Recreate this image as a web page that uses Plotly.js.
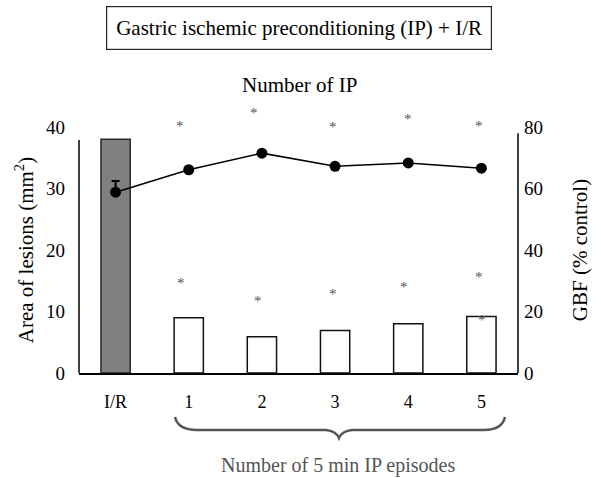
<!DOCTYPE html>
<html>
<head>
<meta charset="utf-8">
<script src="https://cdn.plot.ly/plotly-3.0.1.min.js"></script>
<style>html,body{margin:0;padding:0;background:#fff;}#chart{width:601px;height:478px;}</style>
</head>
<body>
<div id="chart"></div>
<script>
// ---- data ----
const categories = ['I/R', '1', '2', '3', '4', '5'];
const lesionArea = [38.0, 9.0, 5.9, 6.9, 8.0, 9.2];          // mm2, left axis (bars)
const gbf = [58.8, 66.1, 71.5, 67.2, 68.3, 66.6];             // % control, right axis (line)
const gbfErrPlus = [3.6, 0, 0, 0, 0, 0];
const gbfStarCats = ['1', '2', '3', '4', '5'];
const gbfStarLevel = [81.0, 85.2, 80.7, 83.3, 81.0];          // right axis
const lesionStarCats = ['1', '2', '3', '4', '5', '5'];
const lesionStarLevel = [15.0, 12.0, 13.1, 14.3, 16.0, 8.9];  // left axis
const leftRange = [0, 40], rightRange = [0, 80];

// ---- geometry / style ----
const W = 601, H = 478, ML = 79, MR = 83, MT = 127, MB = 105;
const PW = W - ML - MR, PH = H - MT - MB;
const px = x => ((x - ML) / PW).toFixed(4);
const py = y => ((H - MB - y) / PH).toFixed(4);
const serif = 'Liberation Serif';
const topStarDx = [-9, -8, -2, 0, -2];
const lowStarDx = [-8, -4, -2, -4, -2, 1];

const bars = {
  type: 'bar', x: categories, y: lesionArea, yaxis: 'y', width: 0.4,
  marker: {color: ['#808080', '#fff', '#fff', '#fff', '#fff', '#fff'],
           line: {color: ['#2a2a2a', '#111', '#111', '#111', '#111', '#111'], width: 1.5}},
  hoverinfo: 'skip', showlegend: false
};
const line = {
  type: 'scatter', mode: 'lines+markers', x: categories, y: gbf, yaxis: 'y2',
  line: {color: '#000', width: 1.5}, marker: {color: '#000', size: 11},
  error_y: {type: 'data', symmetric: false, array: gbfErrPlus, arrayminus: [0,0,0,0,0,0],
            color: '#000', thickness: 2, width: 4},
  showlegend: false, hoverinfo: 'skip', cliponaxis: false
};

// significance stars: x on the category axis, y converted from each axis' value to paper fraction
const starFont = {family: serif, size: 15, color: '#555'};
const starAnn = (c, v, rng, dx) => ({text: '*', x: c, y: (v - rng[0]) / (rng[1] - rng[0]), xref: 'x', yref: 'paper',
  showarrow: false, xanchor: 'center', yanchor: 'middle', yshift: -2, xshift: dx, font: starFont});
const stars = gbfStarCats.map((c, i) => starAnn(c, gbfStarLevel[i], rightRange, topStarDx[i]))
  .concat(lesionStarCats.map((c, i) => starAnn(c, lesionStarLevel[i], leftRange, lowStarDx[i])));

const brace = 'M' + px(175) + ',' + py(417) +
  ' Q' + px(178) + ',' + py(430) + ' ' + px(197) + ',' + py(430) +
  ' L' + px(326) + ',' + py(430) +
  ' Q' + px(336) + ',' + py(431) + ' ' + px(339) + ',' + py(438) +
  ' Q' + px(342) + ',' + py(431) + ' ' + px(352) + ',' + py(430) +
  ' L' + px(484) + ',' + py(430) +
  ' Q' + px(502) + ',' + py(430) + ' ' + px(505) + ',' + py(417);

const layout = {
  width: W, height: H,
  margin: {l: ML, r: MR, t: MT, b: MB},
  paper_bgcolor: '#fff', plot_bgcolor: '#fff',
  font: {family: serif, size: 18, color: '#000'},
  showlegend: false,
  xaxis: {type: 'category', categoryorder: 'array', categoryarray: categories,
          showline: true, linecolor: '#000', linewidth: 1.5, ticks: '', showgrid: false,
          zeroline: false, ticklabelstandoff: 12, tickfont: {family: serif, size: 18, color: '#000'},
          fixedrange: true},
  yaxis: {range: leftRange, tickvals: [0, 10, 20, 30, 40], showline: false,
          ticks: '', showgrid: false, zeroline: false, ticklabelstandoff: 13,
          tickfont: {family: serif, size: 19, color: '#000'},
          title: {text: 'Area of lesions (mm<sup>2</sup>)', font: {family: serif, size: 21, color: '#000'}, standoff: 6},
          fixedrange: true},
  yaxis2: {range: rightRange, tickvals: [0, 20, 40, 60, 80], overlaying: 'y', side: 'right',
           showline: false, ticks: '', showgrid: false,
           zeroline: false, ticklabelstandoff: 5, tickfont: {family: serif, size: 19, color: '#000'},
           title: {text: 'GBF (% control)', font: {family: serif, size: 21, color: '#000'}, standoff: 30},
           fixedrange: true},
  annotations: [
    {text: 'Gastric ischemic preconditioning (IP) + I/R', xref: 'paper', yref: 'paper',
     x: Number(px(298.5)), y: Number(py(28)), xanchor: 'center', yanchor: 'middle', showarrow: false,
     font: {family: serif, size: 21, color: '#000'}, bordercolor: '#222', borderwidth: 1.2, borderpad: 9},
    {text: 'Number of IP', xref: 'paper', yref: 'paper', x: Number(px(300)), y: Number(py(85)),
     xanchor: 'center', yanchor: 'middle', showarrow: false, font: {family: serif, size: 21, color: '#000'}},
    {text: 'Number of 5 min IP episodes', xref: 'paper', yref: 'paper', x: Number(px(338)), y: Number(py(466)),
     xanchor: 'center', yanchor: 'middle', showarrow: false, font: {family: serif, size: 20, color: '#555'}}
  ].concat(stars),
  shapes: [
    {type: 'path', xref: 'paper', yref: 'paper', path: brace, line: {color: '#555', width: 2.5}},
    {type: 'line', xref: 'paper', yref: 'y', x0: 0, x1: 0, y0: 0, y1: 37.9, line: {color: '#000', width: 1.5}},
    {type: 'line', xref: 'paper', yref: 'y2', x0: 1, x1: 1, y0: 0, y1: 78, line: {color: '#000', width: 1.5}}
  ]
};

Plotly.newPlot('chart', [bars, line], layout, {displayModeBar: false, staticPlot: true});
</script>
</body>
</html>
